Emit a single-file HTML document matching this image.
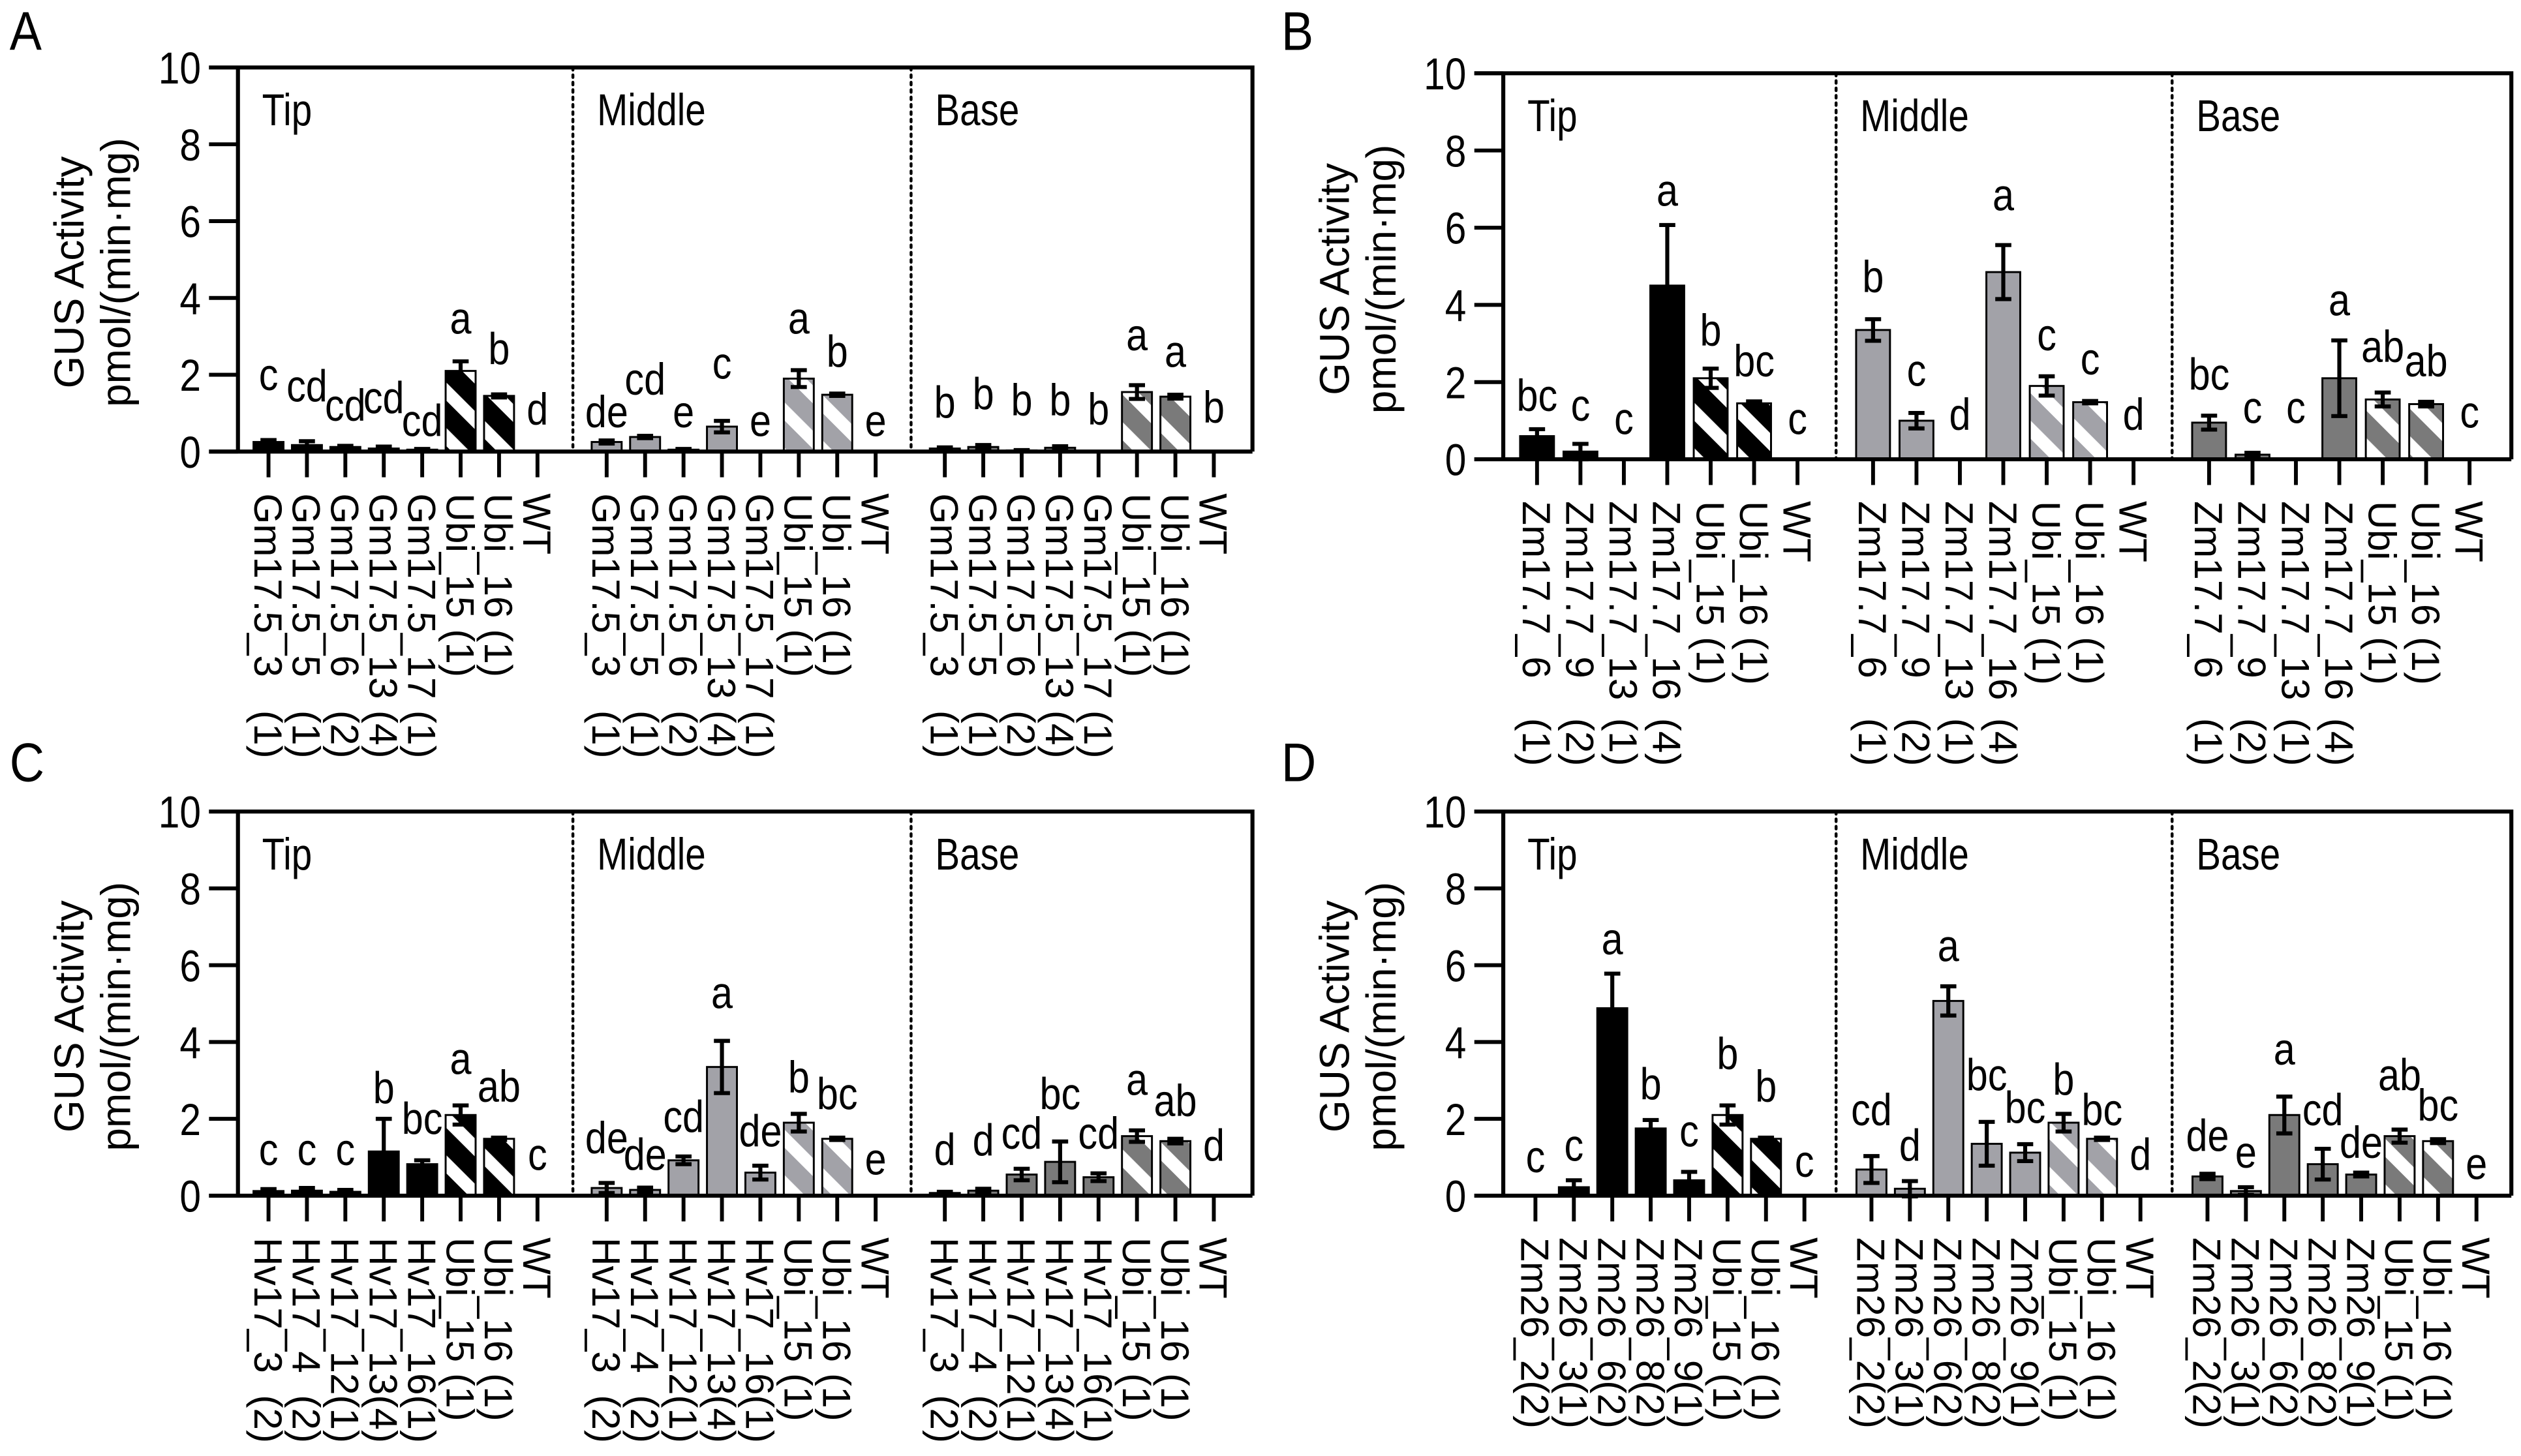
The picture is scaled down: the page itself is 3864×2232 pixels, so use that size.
<!DOCTYPE html>
<html><head><meta charset="utf-8"><style>
html,body{margin:0;padding:0;background:#fff}
svg{display:block}
text{font-family:"Liberation Sans",Arial,sans-serif;fill:#000}
</style></head><body>
<svg id="fig" xmlns="http://www.w3.org/2000/svg" width="3864" height="2232" viewBox="0 0 1568 906" preserveAspectRatio="none">
<defs>
<pattern id="st0" patternUnits="userSpaceOnUse" width="20" height="20" patternTransform="rotate(-45)"><rect width="20" height="20" fill="#000"/><rect width="8" height="20" fill="#fff"/></pattern>
<pattern id="st1" patternUnits="userSpaceOnUse" width="20" height="20" patternTransform="rotate(-45)"><rect width="20" height="20" fill="#a2a2a8"/><rect width="8" height="20" fill="#fff"/></pattern>
<pattern id="st2" patternUnits="userSpaceOnUse" width="20" height="20" patternTransform="rotate(-45)"><rect width="20" height="20" fill="#7a7a7a"/><rect width="8" height="20" fill="#fff"/></pattern>
</defs>
</svg>
<script>
// ---- Panel A data ----
const aNames = ["Gm17.5_3","Gm17.5_5","Gm17.5_6","Gm17.5_13","Gm17.5_17","Ubi_15","Ubi_16","WT"];
const aReps = ["(1)","(1)","(2)","(4)","(1)","(1)","(1)",""];
const aTip = [0.25,0.17,0.12,0.08,0.05,2.1,1.45,0];
const aTipErr = [0.05,0.1,0.03,0.05,0.02,0.25,0.04,0];
const aTipLet = ["c","cd","cd","cd","cd","a","b","d"];
const aTipLetY = [1.6,1.3,0.8,1.0,0.4,3.07,2.27,0.7];
const aMid = [0.25,0.38,0.05,0.65,0.02,1.9,1.48,0];
const aMidErr = [0.04,0.03,0.02,0.15,0,0.22,0.03,0];
const aMidLet = ["de","cd","e","c","e","a","b","e"];
const aMidLetY = [0.63,1.48,0.63,1.9,0.4,3.07,2.2,0.4];
const aBase = [0.08,0.12,0.03,0.1,0.02,1.55,1.43,0];
const aBaseErr = [0.03,0.05,0.01,0.04,0,0.18,0.05,0];
const aBaseLet = ["b","b","b","b","b","a","a","b"];
const aBaseLetY = [0.88,1.1,0.94,0.94,0.7,2.64,2.2,0.75];
// ---- Panel B data ----
const bNames = ["Zm17.7_6","Zm17.7_9","Zm17.7_13","Zm17.7_16","Ubi_15","Ubi_16","WT"];
const bReps = ["(1)","(2)","(1)","(4)","(1)","(1)",""];
const bTip = [0.6,0.2,0,4.5,2.1,1.45,0];
const bTipErr = [0.18,0.2,0,1.57,0.25,0.05,0];
const bTipLet = ["bc","c","c","a","b","bc","c"];
const bTipLetY = [1.25,1.0,0.65,6.57,2.94,2.15,0.65];
const bMid = [3.35,1.0,0,4.85,1.9,1.48,0];
const bMidErr = [0.28,0.2,0,0.7,0.25,0.03,0];
const bMidLet = ["b","c","d","a","c","c","d"];
const bMidLetY = [4.33,1.9,0.76,6.45,2.82,2.2,0.76];
const bBase = [0.95,0.12,0,2.1,1.55,1.43,0];
const bBaseErr = [0.18,0.05,0,0.98,0.18,0.06,0];
const bBaseLet = ["bc","c","c","a","ab","ab","c"];
const bBaseLetY = [1.8,0.94,0.94,3.73,2.52,2.15,0.82];
// ---- Panel C data ----
const cNames = ["Hv17_3","Hv17_4","Hv17_12","Hv17_13","Hv17_16","Ubi_15","Ubi_16","WT"];
const cReps = ["(2)","(2)","(1)","(4)","(1)","(1)","(1)",""];
const cTip = [0.12,0.13,0.1,1.15,0.82,2.1,1.48,0];
const cTipErr = [0.05,0.07,0.05,0.85,0.1,0.25,0.03,0];
const cTipLet = ["c","c","c","b","bc","a","ab","c"];
const cTipLetY = [0.8,0.8,0.8,2.4,1.6,3.17,2.44,0.67];
const cMid = [0.2,0.15,0.92,3.35,0.6,1.9,1.48,0];
const cMidErr = [0.13,0.06,0.1,0.68,0.18,0.23,0.03,0];
const cMidLet = ["de","de","cd","a","de","b","bc","e"];
const cMidLetY = [1.1,0.67,1.65,4.88,1.28,2.68,2.25,0.55];
const cBase = [0.07,0.13,0.55,0.88,0.48,1.55,1.42,0];
const cBaseErr = [0.03,0.05,0.15,0.53,0.1,0.15,0.06,0];
const cBaseLet = ["d","d","cd","bc","cd","a","ab","d"];
const cBaseLetY = [0.8,1.04,1.22,2.25,1.22,2.62,2.07,0.91];
// ---- Panel D data ----
const dNames = ["Zm26_2","Zm26_3","Zm26_6","Zm26_8","Zm26_9","Ubi_15","Ubi_16","WT"];
const dReps = ["(2)","(1)","(2)","(2)","(1)","(1)","(1)",""];
const dTip = [0.02,0.22,4.88,1.75,0.4,2.1,1.48,0];
const dTipErr = [0,0.18,0.9,0.22,0.22,0.25,0.03,0];
const dTipLet = ["c","c","a","b","c","b","b","c"];
const dTipLetY = [0.61,0.91,6.28,2.5,1.28,3.29,2.44,0.49];
const dMid = [0.68,0.18,5.07,1.35,1.12,1.9,1.48,0];
const dMidErr = [0.35,0.2,0.38,0.57,0.22,0.23,0.03,0];
const dMidLet = ["cd","d","a","bc","bc","b","bc","d"];
const dMidLetY = [1.83,0.91,6.1,2.74,1.89,2.62,1.83,0.67];
const dBase = [0.5,0.12,2.1,0.82,0.55,1.55,1.42,0];
const dBaseErr = [0.07,0.1,0.48,0.4,0.05,0.17,0.05,0];
const dBaseLet = ["de","e","a","cd","de","ab","bc","e"];
const dBaseLetY = [1.16,0.73,3.41,1.83,0.98,2.74,1.95,0.43];

const yTicks = [0,2,4,6,8,10];
const groupNames = ["Tip","Middle","Base"];

const NS = "http://www.w3.org/2000/svg";
const svg = document.getElementById("fig");
function mk(tag, attrs, parent){ const e=document.createElementNS(NS,tag); for(const k in attrs) e.setAttribute(k,attrs[k]); (parent||svg).appendChild(e); return e; }

const groupFill = ["#000","#a2a2a8","#7a7a7a"];

function panel(cfg){
  const g = mk("g",{});
  
  
  const L=cfg.left, R=cfg.right, T=cfg.top, Z=cfg.zero;
  const ys = v => Z - (v/10)*(Z-T);
  const pl = mk("text",{x:0,y:0,"font-size":34,transform:`translate(${cfg.lx},${cfg.ly}) scale(0.88,1)`},g);
  pl.textContent = cfg.id.toUpperCase();
  
  
  const cy = (T+Z)/2+8;
  const t1 = mk("text",{x:0,y:0,"font-size":26,"text-anchor":"middle",transform:`translate(${L-96},${cy}) rotate(-90)`},g);
  t1.textContent = "GUS Activity";
  
  
  const t2 = mk("text",{x:0,y:0,"font-size":26,"text-anchor":"middle",transform:`translate(${L-67},${cy}) rotate(-90)`},g);
  t2.textContent = "pmol/(min·mg)";
  
  
  yTicks.forEach(v=>{
    const y=ys(v);
    const tk=mk("line",{x1:L-18,x2:L,y1:y,y2:y,stroke:"#000","stroke-width":2.4},g);
    
    
    const tl=mk("text",{x:0,y:0,"font-size":28,"text-anchor":"end",transform:`translate(${L-23},${y+10}) scale(0.85,1)`},g);
    tl.textContent=String(v);
    
    
  });
  const gw=(R-L)/3;
  [1,2].forEach(k=>{
    const x=L+k*gw-2;
    const d=mk("line",{x1:x,x2:x,y1:T,y2:Z,stroke:"#000","stroke-width":1.8,"stroke-dasharray":"1.6 3","stroke-linecap":"round"},g);
    
    
  });
  const n=cfg.names.length;
  cfg.groups.forEach((grp,gi)=>{
    const gl=mk("text",{x:0,y:0,"font-size":28,transform:`translate(${L+gi*gw+(gi?13:15)},${T+36}) scale(0.82,1)`},g);
    gl.textContent=groupNames[gi];
    
    
    for(let i=0;i<n;i++){
      const cx=L+gi*gw+cfg.off+i*cfg.sp;
      const v=grp.vals[i], e=grp.err[i];
      const bw=cfg.sp*0.78;
      let fill=groupFill[gi];
      if(cfg.names[i].startsWith("Ubi")) fill="url(#st"+gi+")";
      const b=mk("rect",{x:cx-bw/2,y:ys(v),width:bw,height:Math.max(Z-ys(v),0),fill:fill,stroke:"#000","stroke-width":1.2},g);
      
      
      if(e>0){
        const eb=mk("path",{d:`M${cx},${ys(v-e)}V${ys(v+e)}M${cx-5},${ys(v+e)}H${cx+5}M${cx-5},${ys(v-e)}H${cx+5}`,stroke:"#000","stroke-width":2.5,fill:"none"},g);
        
        
      }
      const lt=mk("text",{x:0,y:0,"font-size":28,"text-anchor":"middle",transform:`translate(${cx},${ys(grp.letY[i])}) scale(0.86,1)`},g);
      lt.textContent=grp.let[i];
      
      
      const xt=mk("line",{x1:cx,x2:cx,y1:Z,y2:Z+16,stroke:"#000","stroke-width":2.4},g);
      
      
      const xl=mk("text",{x:0,y:0,"font-size":24.5,dy:"0.36em",transform:`translate(${cx},${Z+26}) rotate(90)`},g);
      
      
      const s1=mk("tspan",{},xl); s1.textContent=cfg.names[i];
      if(cfg.reps[i]){
        const isUbi=cfg.names[i].startsWith("Ubi");
        const s2=mk("tspan",isUbi?{}:{x:cfg.paren},xl);
        s2.textContent=(isUbi?" ":"")+cfg.reps[i];
      }
    }
  });
  const fr=mk("path",{d:`M${L-18},${T}H${R}V${Z}M${L},${T}V${Z}M${L-18},${Z}H${R}`,stroke:"#000","stroke-width":2.5,fill:"none"},g);
  
  
}

panel({id:"a",left:148,right:779,top:42,zero:281,off:19,sp:23.9,lx:6,ly:31,paren:135,names:aNames,reps:aReps,
  groups:[{vals:aTip,err:aTipErr,let:aTipLet,letY:aTipLetY},{vals:aMid,err:aMidErr,let:aMidLet,letY:aMidLetY},{vals:aBase,err:aBaseErr,let:aBaseLet,letY:aBaseLetY}]});
panel({id:"b",left:935,right:1562,top:45.6,zero:285.8,off:21,sp:27,lx:797,ly:31,paren:135,names:bNames,reps:bReps,
  groups:[{vals:bTip,err:bTipErr,let:bTipLet,letY:bTipLetY},{vals:bMid,err:bMidErr,let:bMidLet,letY:bMidLetY},{vals:bBase,err:bBaseErr,let:bBaseLet,letY:bBaseLetY}]});
panel({id:"c",left:148,right:779,top:505,zero:744,off:19,sp:23.9,lx:6,ly:486,paren:98,names:cNames,reps:cReps,
  groups:[{vals:cTip,err:cTipErr,let:cTipLet,letY:cTipLetY},{vals:cMid,err:cMidErr,let:cMidLet,letY:cMidLetY},{vals:cBase,err:cBaseErr,let:cBaseLet,letY:cBaseLetY}]});
panel({id:"d",left:935,right:1562,top:505,zero:744,off:20,sp:23.9,lx:797,ly:486,paren:89,names:dNames,reps:dReps,
  groups:[{vals:dTip,err:dTipErr,let:dTipLet,letY:dTipLetY},{vals:dMid,err:dMidErr,let:dMidLet,letY:dMidLetY},{vals:dBase,err:dBaseErr,let:dBaseLet,letY:dBaseLetY}]});
</script>
</body></html>
